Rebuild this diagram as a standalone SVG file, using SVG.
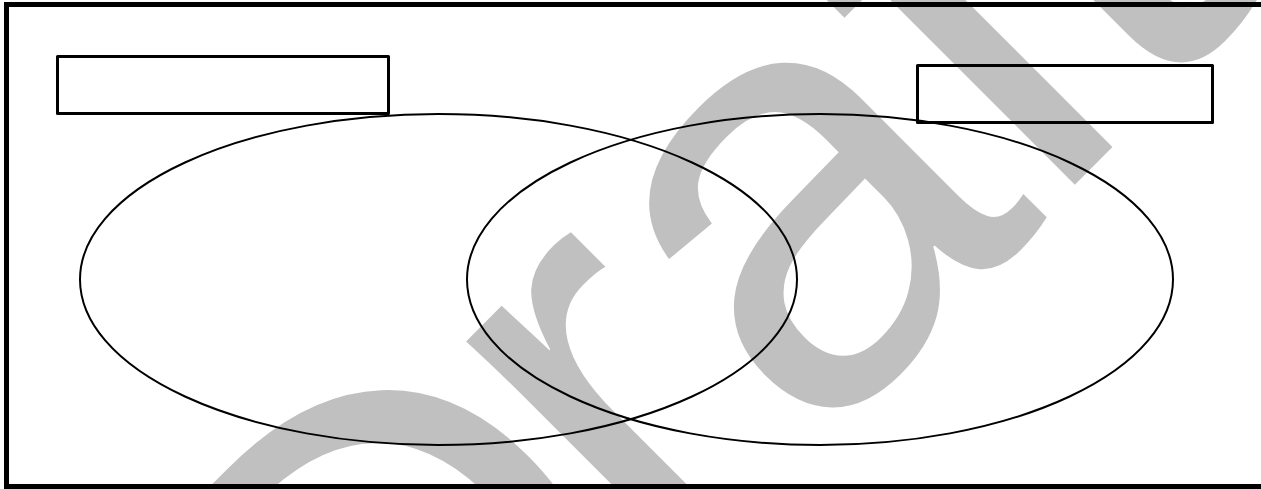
<svg xmlns="http://www.w3.org/2000/svg" width="1261" height="489" viewBox="0 0 1261 489">
  <style>
    .frame { fill: none; stroke: #000; stroke-width: 5; }
    .box { fill: none; stroke: #000; stroke-width: 3; stroke-linejoin: round; }
    .set { fill: none; stroke: #000; stroke-width: 2; }
    .wm { fill: #C0C0C0; font-family: "Liberation Sans", Arial, sans-serif; font-size: 605px; }
  </style>
  <rect x="0" y="0" width="1261" height="489" fill="#fff"/>
  <g id="watermark">
    <text class="wm" transform="translate(629.75,629.75) rotate(-45)" x="-357 48 250 576 727" y="18 0 5 0 0">Draft</text>
  </g>
  <g id="frame">
    <rect class="frame" x="6.5" y="4.5" width="1270" height="482"/>
  </g>
  <g id="set-left">
    <ellipse class="set" cx="438.5" cy="279.5" rx="358.5" ry="165.5"/>
  </g>
  <g id="set-right">
    <ellipse class="set" cx="820" cy="279.5" rx="353" ry="165.5"/>
  </g>
  <g id="label-left">
    <rect class="box" x="57.5" y="56.5" width="331" height="57"/>
  </g>
  <g id="label-right">
    <rect class="box" x="917.5" y="65.5" width="295" height="57"/>
  </g>
  <g id="connectors"/>
</svg>
